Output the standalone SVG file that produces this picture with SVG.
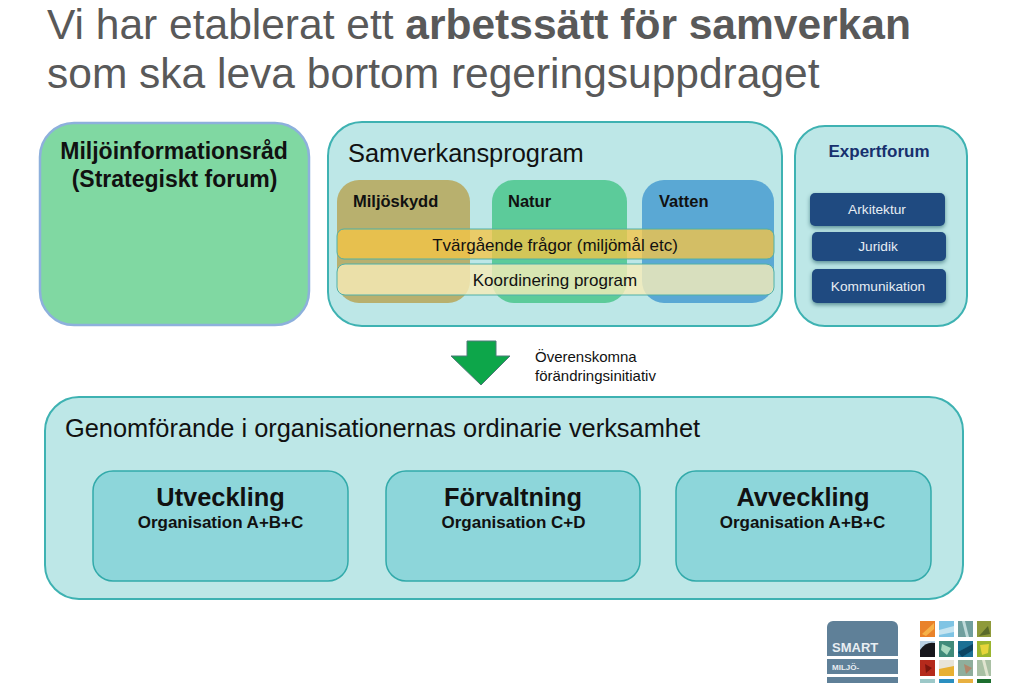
<svg xmlns="http://www.w3.org/2000/svg" width="1024" height="683" viewBox="0 0 1024 683">
<defs><style>
text{font-family:"Liberation Sans",Arial,sans-serif;fill:#111}
.b{font-weight:bold}
.t{font-size:42.5px;fill:#595959}
.panel{fill:#bde7e7;stroke:#3eb2b2;stroke-width:2}
.inner{fill:#8dd6da;stroke:#32aaaa;stroke-width:1.5}
.ex{fill:#1f4a80;filter:drop-shadow(0 2px 2px #5a8f95)}
.ext{font-size:13.7px;fill:#e6edf3;text-anchor:middle}
.h{font-size:25.4px;text-anchor:middle}
.s{font-size:17px;font-weight:bold;text-anchor:middle}
.l{font-size:16.5px;font-weight:bold}
.c{font-size:17px;text-anchor:middle}
.lt{font-size:23px;font-weight:bold;text-anchor:middle}
.big{font-size:25.4px}
.n{font-size:15px}
</style>
<filter id="soft" x="-5%" y="-5%" width="110%" height="110%"><feGaussianBlur stdDeviation="0.7"/></filter>
</defs>
<rect width="1024" height="683" fill="#fff"/>
<g id="title">
<text class="t" x="47" y="38.500">Vi har etablerat ett <tspan class="b">arbetssätt för samverkan</tspan></text>
<text class="t" x="47" y="88">som ska leva bortom regeringsuppdraget</text>
</g>
<g id="miljoinformationsrad">
<rect x="40" y="123" width="269" height="202" rx="34" fill="#80d8a2" stroke="#8db0dc" stroke-width="2.5"/>
<text class="lt" x="174" y="159">Miljöinformationsråd</text>
<text class="lt" x="174.500" y="187">(Strategiskt forum)</text>
</g>
<g id="samverkansprogram">
<rect class="panel" x="328" y="122" width="454" height="204" rx="34"/>
<text class="big" x="348" y="162">Samverkansprogram</text>
</g>
<g id="miljoskydd">
<rect x="337" y="180" width="133" height="123" rx="22" fill="#b8b06e"/>
<text class="l" x="353" y="207">Miljöskydd</text>
</g>
<g id="natur">
<rect x="492" y="180" width="135" height="123" rx="22" fill="#5ccb9a"/>
<text class="l" x="508" y="207">Natur</text>
</g>
<g id="vatten">
<rect x="642" y="180" width="132" height="123" rx="22" fill="#5aa8d4"/>
<text class="l" x="659" y="207">Vatten</text>
</g>
<g id="tvargaende">
<rect x="337" y="229" width="437" height="30" rx="7" fill="#f5c445" fill-opacity=".78" stroke="#4fb0a8"/>
<text class="c" x="555" y="251">Tvärgående frågor (miljömål etc)</text>
</g>
<g id="koordinering">
<rect x="337" y="264" width="437" height="31" rx="8" fill="#f8ecb8" fill-opacity=".8" stroke="#4fb0a8"/>
<text class="c" x="555" y="286">Koordinering program</text>
</g>
<g id="expertforum">
<rect class="panel" x="795" y="126" width="172" height="200" rx="30"/>
<text class="b" x="879" y="157" font-size="17" text-anchor="middle" style="fill:#17306e">Expertforum</text>
</g>
<g id="arkitektur"><rect class="ex" x="810" y="193" width="135" height="33" rx="5"/><text class="ext" x="877" y="214">Arkitektur</text></g>
<g id="juridik"><rect class="ex" x="812" y="232" width="134" height="29" rx="5"/><text class="ext" x="878" y="251">Juridik</text></g>
<g id="kommunikation"><rect class="ex" x="812" y="269" width="134" height="34" rx="5"/><text class="ext" x="878" y="291">Kommunikation</text></g>
<g id="connectors">
<path d="M467 341H496V356H510L481 385L451 356H467Z" fill="#0da64a" stroke="#4f7a78" stroke-width="1"/>
</g>
<g id="arrow-label">
<text class="n" x="535" y="362">Överenskomna</text>
<text class="n" x="535" y="381">förändringsinitiativ</text>
</g>
<g id="genomforande">
<rect class="panel" x="45" y="397" width="918" height="202" rx="34"/>
<text class="big" x="65" y="437">Genomförande i organisationernas ordinarie verksamhet</text>
</g>
<g id="utveckling">
<rect class="inner" x="93" y="471" width="255" height="110" rx="20"/>
<text class="h b" x="220.500" y="506">Utveckling</text><text class="s" x="220.500" y="528">Organisation A+B+C</text>
</g>
<g id="forvaltning">
<rect class="inner" x="386" y="471" width="254" height="110" rx="20"/>
<text class="h b" x="513" y="506">Förvaltning</text><text class="s" x="513.500" y="528">Organisation C+D</text>
</g>
<g id="avveckling">
<rect class="inner" x="676" y="471" width="255" height="110" rx="20"/>
<text class="h b" x="803" y="506">Avveckling</text><text class="s" x="802.500" y="528">Organisation A+B+C</text>
</g>
<g id="logo">
<path d="M827 656V627a6 6 0 0 1 6-6H892a6 6 0 0 1 6 6V656Z" fill="#5f8098"/>
<rect x="827" y="659" width="71" height="15" fill="#5f8098"/>
<rect x="827" y="677" width="71" height="6" fill="#5f8098"/>
<text x="832" y="652" font-size="13" font-weight="bold" style="fill:#e8eef2">SMART</text>
<text x="832" y="670" font-size="8" font-weight="bold" style="fill:#e8eef2">MILJÖ-</text>
<g filter="url(#soft)">
<rect x="920" y="621" width="15" height="16" fill="#e9822a"/><path d="M922 634L934 623L934 629L926 636Z" fill="#f6b24a"/>
<rect x="939" y="621" width="15" height="16" fill="#7fc4e4"/><path d="M939 630L954 626V632L939 635Z" fill="#c4e4f0"/>
<rect x="958" y="621" width="15" height="16" fill="#6f9f9e"/><path d="M962 621L966 637H969L965 621Z" fill="#c0dada"/>
<rect x="977" y="621" width="14" height="16" fill="#8f9a3a"/><path d="M979 636L988 626L990 634Z" fill="#5a6a2a"/>
<rect x="920" y="641" width="15" height="16" fill="#b8d0e4"/><path d="M920 657V650Q926 641 935 643V657Z" fill="#15191d"/>
<rect x="939" y="641" width="15" height="16" fill="#3f8a7a"/><path d="M942 644L951 648L947 655L941 650Z" fill="#a8d8c0"/>
<rect x="958" y="641" width="15" height="16" fill="#1a6f94"/><path d="M958 652L973 644V650L962 657Z" fill="#0c4464"/>
<rect x="977" y="641" width="14" height="16" fill="#9ab52f"/><path d="M980 645L989 644L988 653L982 655Z" fill="#e6d53a"/>
<rect x="920" y="660" width="15" height="16" fill="#b52a1c"/><path d="M925 664L932 668L926 673Z" fill="#7c1710"/>
<rect x="939" y="660" width="15" height="16" fill="#e8e4d8"/><path d="M939 676V669L954 666V676Z" fill="#e8b030"/>
<rect x="958" y="660" width="15" height="16" fill="#8fae9c"/><path d="M964 664L972 668L966 674Z" fill="#c86a4a" fill-opacity=".6"/>
<rect x="977" y="660" width="14" height="16" fill="#a9c0a4"/><path d="M982 660L986 676H989L985 660Z" fill="#e0e4d0"/>
<rect x="920" y="679" width="15" height="4" fill="#9cc8c8"/><rect x="939" y="679" width="15" height="4" fill="#2a8fc0"/><rect x="958" y="679" width="15" height="4" fill="#e8b040"/><rect x="977" y="679" width="14" height="4" fill="#1f6e2e"/>
</g>
</g>
</svg>
